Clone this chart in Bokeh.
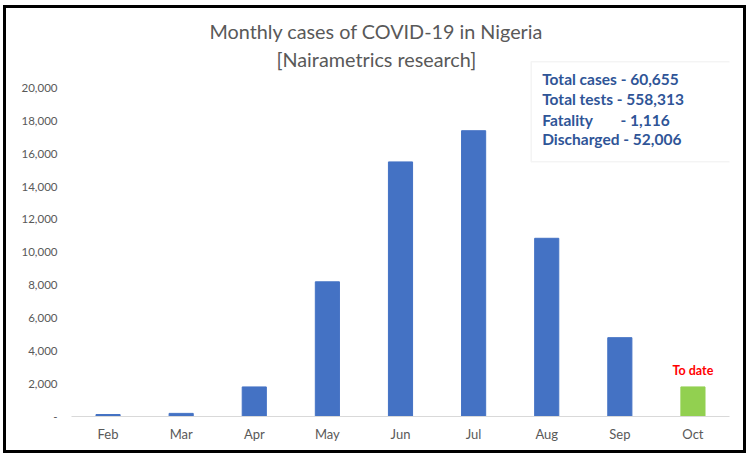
from bokeh.plotting import figure
from bokeh.models import (FactorRange, Range1d, FixedTicker, NumeralTickFormatter,
                          Label, BoxAnnotation, ColumnDataSource)
from bokeh.embed import file_html
from bokeh.resources import INLINE

# ---- data ----
months = ["Feb", "Mar", "Apr", "May", "Jun", "Jul", "Aug", "Sep", "Oct"]
cases = [120, 190, 1800, 8200, 15500, 17400, 10850, 4800, 1800]
bar_colors = ["#4472C4"] * 8 + ["#92D050"]
y_ticks = [0, 2000, 4000, 6000, 8000, 10000, 12000, 14000, 16000, 18000, 20000]
title_lines = ["Monthly cases of COVID-19 in Nigeria", "[Nairametrics research]"]
box_lines = ["Total cases - 60,655", "Total tests - 558,313", "Fatality", "Discharged - 52,006"]
fatality_value = "- 1,116"
note_text = "To date"

FONT = "Lato"
GRAY = "#595959"
BLUE_TXT = "#2F5597"

src = ColumnDataSource(dict(month=months, cases=cases, color=bar_colors))

p = figure(width=743, height=448, output_backend="svg", toolbar_location=None,
           x_range=FactorRange(*months), y_range=Range1d(0, 24353),
           min_border_left=65, min_border_right=20, min_border_top=8, min_border_bottom=40)
p.styles = {"border": "3px solid #000000", "margin-left": "3px", "margin-top": "5px"}

p.vbar(x="month", top="cases", width=0.33, color="color", source=src)

p.xgrid.grid_line_color = None
p.ygrid.grid_line_color = None
p.outline_line_color = None
p.background_fill_color = "white"
p.border_fill_color = "white"

p.yaxis.ticker = FixedTicker(ticks=y_ticks)
p.yaxis.formatter = NumeralTickFormatter(format="0,0")
p.yaxis.major_label_overrides = {0: "-"}
p.yaxis.axis_line_color = None
p.yaxis.major_tick_line_color = None
p.yaxis.minor_tick_line_color = None
p.yaxis.major_tick_out = 0
p.yaxis.major_label_standoff = 14
p.yaxis.major_label_text_font = FONT
p.yaxis.major_label_text_font_size = "11.5px"
p.yaxis.major_label_text_color = GRAY

p.xaxis.axis_line_color = "#D9D9D9"
p.xaxis.axis_line_width = 1.2
p.xaxis.major_tick_line_color = None
p.xaxis.minor_tick_line_color = None
p.xaxis.major_tick_out = 0
p.xaxis.major_label_standoff = 9
p.xaxis.major_label_text_font = FONT
p.xaxis.major_label_text_font_size = "13px"
p.xaxis.major_label_text_color = GRAY

# title (two centred lines)
for txt, yv in zip(title_lines, [23500, 21790]):
    p.add_layout(Label(x=4.17, y=yv, text=txt, text_align="center", text_baseline="middle",
                       text_font=FONT, text_font_size="19.8px", text_color=GRAY))

# info box
p.add_layout(BoxAnnotation(left=6.288, right=9.04, top=21601, bottom=15513,
                           fill_color="white", fill_alpha=1.0,
                           line_color="#D9D9D9", line_width=1.5))
for txt, yv in zip(box_lines, [20530, 19312, 18082, 16865]):
    p.add_layout(Label(x=6.438, y=yv, text=txt, text_baseline="middle",
                       text_font=FONT, text_font_size="15.5px", text_font_style="bold",
                       text_color=BLUE_TXT))
p.add_layout(Label(x=7.51, y=18082, text=fatality_value, text_baseline="middle",
                   text_font=FONT, text_font_size="15.5px", text_font_style="bold",
                   text_color=BLUE_TXT))

# note above October bar
p.add_layout(Label(x=len(months) - 0.5, y=cases[-1], y_offset=16, text=note_text,
                   text_align="center", text_baseline="middle",
                   text_font=FONT, text_font_size="12.5px", text_font_style="bold",
                   text_color="#FF0000"))

open("out.html", "w").write(file_html(p, INLINE))
